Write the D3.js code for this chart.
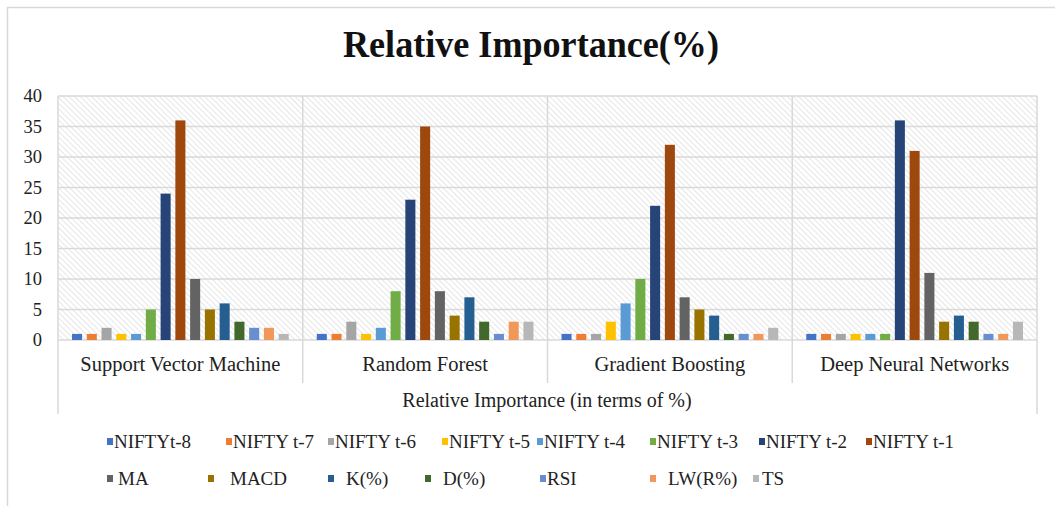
<!DOCTYPE html>
<html><head><meta charset="utf-8">
<script src="https://cdn.jsdelivr.net/npm/d3@7"></script>
<style>body{margin:0;background:#fff}svg{display:block}</style>
</head><body>
<svg id="c" width="1055" height="506"></svg>
<script>
const categories = ["Support Vector Machine","Random Forest","Gradient Boosting","Deep Neural Networks"];
const seriesNames = ["NIFTYt-8","NIFTY t-7","NIFTY t-6","NIFTY t-5","NIFTY t-4","NIFTY t-3","NIFTY t-2","NIFTY t-1","MA","MACD","K(%)","D(%)","RSI","LW(R%)","TS"];
const svmValues = [1,1,2,1,1,5,24,36,10,5,6,3,2,2,1];
const rfValues  = [1,1,3,1,2,8,23,35,8,4,7,3,1,3,3];
const gbValues  = [1,1,1,3,6,10,22,32,7,5,4,1,1,1,2];
const dnnValues = [1,1,1,1,1,1,36,31,11,3,4,3,1,1,3];
const yTicks = [0,5,10,15,20,25,30,35,40];
const colors = ["#4472C4","#ED7D31","#A5A5A5","#FFC000","#5B9BD5","#70AD47","#264478","#9E480E","#636363","#997300","#255E91","#43682B","#698ED0","#F1975A","#B7B7B7"];

(function(){
const valuesByCat = [svmValues, rfValues, gbValues, dnnValues];
const svg = d3.select("#c");
const serif = "'Liberation Serif','Times New Roman',serif";

svg.append("rect").attr("x",7.5).attr("y",7.5).attr("width",1060).attr("height",510)
  .attr("fill","#fff").attr("stroke","#d9d9d9").attr("stroke-width",1.5);

svg.append("text").attr("x",531).attr("y",57).attr("text-anchor","middle")
  .attr("font-family",serif).attr("font-weight","bold").attr("font-size",38)
  .attr("textLength",376).attr("lengthAdjust","spacingAndGlyphs")
  .attr("fill","#111").text("Relative Importance(%)");

const pL=58, pR=1037, pT=96, pB=340;
const x0 = d3.scaleBand().domain(categories).range([pL,pR]).padding(0);
const x1 = d3.scaleBand().domain(seriesNames).range([0,x0.bandwidth()]).paddingInner(0.32).paddingOuter(0.95);
const y = d3.scaleLinear().domain([0,40]).range([pB,pT]);

const defs = svg.append("defs");
const pat = defs.append("pattern").attr("id","hatch").attr("patternUnits","userSpaceOnUse")
  .attr("width",4).attr("height",4).attr("patternTransform","rotate(-45)");
pat.append("rect").attr("width",4).attr("height",4).attr("fill","#fff");
pat.append("line").attr("x1",0).attr("y1",0).attr("x2",0).attr("y2",4).attr("stroke","#dcdcdc").attr("stroke-width",1.4);

svg.append("rect").attr("x",pL).attr("y",pT).attr("width",pR-pL).attr("height",pB-pT).attr("fill","url(#hatch)");

svg.append("g").selectAll("line").data(yTicks).join("line")
  .attr("x1",pL).attr("x2",pR).attr("y1",d=>y(d)).attr("y2",d=>y(d))
  .attr("stroke","#d9d9d9").attr("stroke-width",1.5);

const bounds = categories.map(c=>x0(c)).concat([pR]);
svg.append("g").selectAll("line").data(bounds).join("line")
  .attr("x1",d=>d).attr("x2",d=>d).attr("y1",pT)
  .attr("y2",(d,i)=> (i===0||i===bounds.length-1) ? 414 : 383)
  .attr("stroke","#d9d9d9").attr("stroke-width",1.5);

const yAxis = d3.axisLeft(y).tickValues(yTicks).tickSize(0).tickPadding(0);
const ga = svg.append("g").attr("transform",`translate(42,0)`).call(yAxis);
ga.select(".domain").remove();
ga.selectAll("text").attr("font-family",serif).attr("font-size",18.5).attr("fill","#222");

const groups = svg.append("g").selectAll("g").data(categories).join("g")
  .attr("transform",d=>`translate(${x0(d)},0)`);
groups.selectAll("rect").data((d,i)=>valuesByCat[i].map((v,j)=>({s:seriesNames[j],v,j})))
  .join("rect")
  .attr("x",d=>x1(d.s)).attr("width",x1.bandwidth())
  .attr("y",d=>y(d.v)).attr("height",d=>y(0)-y(d.v))
  .attr("fill",d=>colors[d.j]);

svg.append("g").selectAll("text").data(categories).join("text")
  .attr("x",d=>x0(d)+x0.bandwidth()/2).attr("y",371).attr("text-anchor","middle")
  .attr("font-family",serif).attr("font-size",20.5).attr("fill","#222").text(d=>d);

svg.append("text").attr("x",547).attr("y",407).attr("text-anchor","middle")
  .attr("font-family",serif).attr("font-size",20).attr("fill","#222")
  .text("Relative Importance (in terms of %)");

const legendX = [107,226,328,442,537,650,759,866, 107,208,328,425,540,650,753];
const legendTextDx = [7,7,7,7,7,7,7,7, 11,22,18,18,7,18,9];
const legend = svg.append("g").selectAll("g").data(seriesNames).join("g")
  .attr("transform",(d,i)=>`translate(${legendX[i]},${i<8?448:485})`);
legend.append("rect").attr("x",0).attr("y",-10).attr("width",6).attr("height",7).attr("fill",(d,i)=>colors[i]);
legend.append("text").attr("x",(d,i)=>legendTextDx[i]).attr("y",0)
  .attr("font-family",serif).attr("font-size",19).attr("fill","#222").text(d=>d);
})();
</script>
</body></html>
